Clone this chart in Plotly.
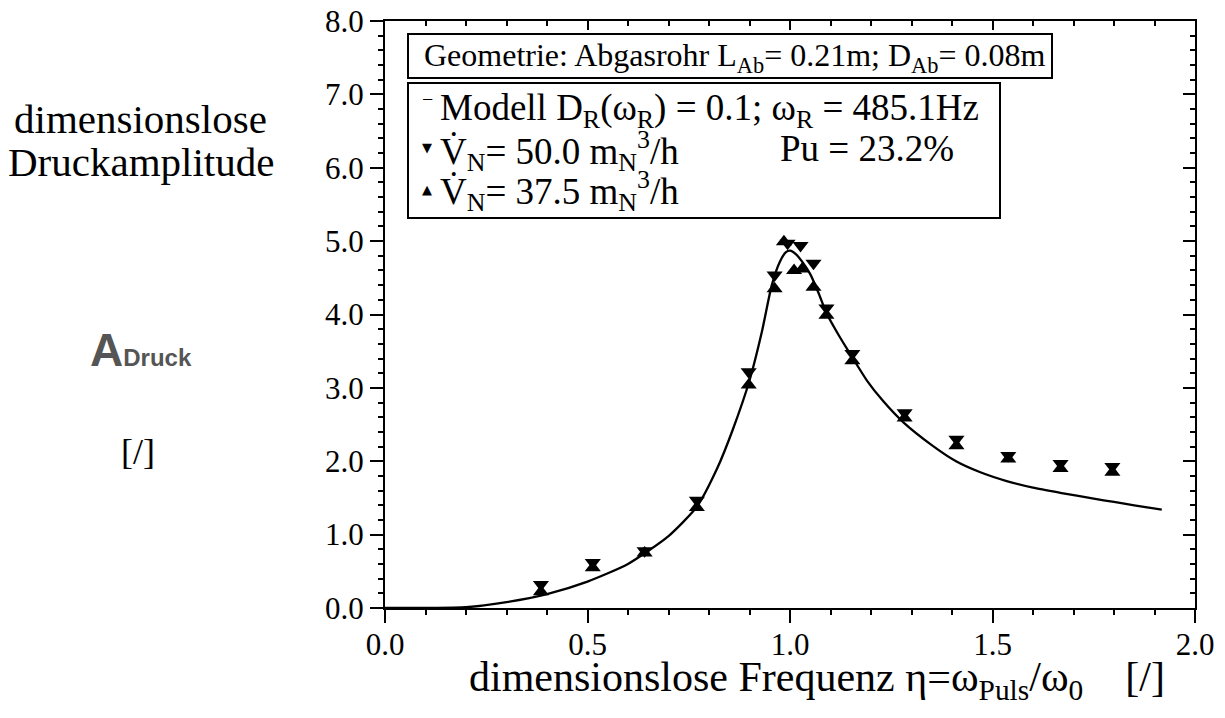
import plotly.graph_objects as go

# ---------------- data ----------------
model_eta = [0.00, 0.10, 0.20, 0.30, 0.40, 0.50, 0.60, 0.70, 0.77, 0.82, 0.86, 0.90,
             0.93, 0.955, 0.975, 0.99, 1.00, 1.015, 1.03, 1.05, 1.07, 1.09, 1.12,
             1.15, 1.19, 1.23, 1.28, 1.35, 1.41, 1.47, 1.535, 1.60, 1.667, 1.75,
             1.80, 1.85, 1.918]
model_amp = [0.00, 0.00, 0.01, 0.08, 0.19, 0.36, 0.60, 0.98, 1.38, 1.90, 2.45, 3.10,
             3.75, 4.40, 4.72, 4.85, 4.87, 4.82, 4.72, 4.55, 4.30, 4.02, 3.72,
             3.45, 3.10, 2.82, 2.53, 2.22, 2.00, 1.85, 1.73, 1.64, 1.57, 1.49,
             1.445, 1.40, 1.34]

v50_eta = [0.385, 0.513, 0.641, 0.770, 0.898, 0.962, 0.994, 1.026, 1.058, 1.090,
           1.154, 1.283, 1.411, 1.539, 1.668, 1.796]
v50_amp = [0.32, 0.62, 0.78, 1.47, 3.22, 4.54, 4.97, 4.94, 4.70, 4.09,
           3.47, 2.66, 2.30, 2.08, 1.97, 1.93]

v37_eta = [0.385, 0.513, 0.641, 0.770, 0.898, 0.962, 0.985, 1.010, 1.030, 1.058,
           1.090, 1.154, 1.283, 1.411, 1.539, 1.668, 1.796]
v37_amp = [0.22, 0.55, 0.75, 1.37, 3.04, 4.35, 4.99, 4.60, 4.62, 4.37,
           3.99, 3.37, 2.59, 2.21, 2.03, 1.90, 1.85]

x_ticks = [0.0, 0.5, 1.0, 1.5, 2.0]
y_ticks = [0.0, 1.0, 2.0, 3.0, 4.0, 5.0, 6.0, 7.0, 8.0]

# ---------------- layout geometry (pixels of the 1225x718 page) ----------------
OFF = 8                      # default body margin of the html page
W, H = 1225 - 2 * OFF, 718 - 2 * OFF
L, R, T, B = 385, 1195, 21, 608   # plot area in page pixels


def px(xp):
    return (xp - L) / (R - L)


def py(yp):
    return (B - yp) / (B - T)


SERIF = "Liberation Serif"

fig = go.Figure()

fig.add_trace(go.Scatter(
    x=model_eta, y=model_amp, mode="lines",
    line=dict(color="black", width=2.3, shape="spline", smoothing=0.6),
    name="Modell", showlegend=False))

fig.add_trace(go.Scatter(
    x=v50_eta, y=v50_amp, mode="markers",
    marker=dict(symbol="triangle-down", size=14, color="black"),
    name="V50", showlegend=False))

fig.add_trace(go.Scatter(
    x=v37_eta, y=v37_amp, mode="markers",
    marker=dict(symbol="triangle-up", size=14, color="black"),
    name="V37", showlegend=False))

# invisible trace for the mirrored (top / right) tick axes
fig.add_trace(go.Scatter(x=[0, 2], y=[0, 8], xaxis="x2", yaxis="y2",
                         mode="markers", marker=dict(opacity=0),
                         showlegend=False, hoverinfo="skip"))

axis_common = dict(showgrid=False, zeroline=False, tickcolor="black",
                   tickwidth=2, automargin=False)

fig.update_layout(
    width=W, height=H, autosize=False,
    margin=dict(l=L - OFF, r=(W + OFF) - R, t=T - OFF, b=(H + OFF) - B, pad=0),
    paper_bgcolor="white", plot_bgcolor="white",
    showlegend=False,
    font=dict(family=SERIF, color="black", size=30),
    xaxis=dict(range=[0, 2], tickvals=x_ticks, tickformat=".1f",
               ticks="outside", ticklen=13, ticklabelstandoff=-5,
               ticklabeloverflow="allow",
               showline=True, mirror=True, linecolor="black", linewidth=2,
               tickfont=dict(family=SERIF, size=31, color="black"),
               minor=dict(dtick=0.1, ticks="outside", ticklen=5,
                          tickcolor="black", tickwidth=1.5),
               **axis_common),
    yaxis=dict(range=[0, 8], tickvals=y_ticks, tickformat=".1f",
               ticks="outside", ticklen=13, ticklabeloverflow="allow",
               showline=True, mirror=True, linecolor="black", linewidth=2,
               tickfont=dict(family=SERIF, size=31, color="black"),
               minor=dict(dtick=0.2, ticks="outside", ticklen=5,
                          tickcolor="black", tickwidth=1.5),
               **axis_common),
    xaxis2=dict(range=[0, 2], overlaying="x", side="top", anchor="y",
                tickvals=x_ticks, ticks="inside", ticklen=9,
                showticklabels=False, showline=False,
                minor=dict(dtick=0.1, ticks="inside", ticklen=5,
                           tickcolor="black", tickwidth=1.5),
                **axis_common),
    yaxis2=dict(range=[0, 8], overlaying="y", side="right", anchor="x",
                tickvals=y_ticks, ticks="inside", ticklen=12,
                showticklabels=False, showline=False,
                minor=dict(dtick=0.2, ticks="inside", ticklen=5,
                           tickcolor="black", tickwidth=1.5),
                **axis_common),
)

# ---------------- boxes ----------------
fig.add_shape(type="rect", xref="paper", yref="paper",
              x0=px(408), x1=px(1052), y0=py(78), y1=py(34),
              line=dict(color="black", width=2), fillcolor="white", layer="above")
fig.add_shape(type="rect", xref="paper", yref="paper",
              x0=px(408), x1=px(1000), y0=py(218), y1=py(83),
              line=dict(color="black", width=2), fillcolor="white", layer="above")

ann = []


def text(xp, yp, s, size, xanchor="left", family=SERIF, color="black"):
    ann.append(dict(xref="paper", yref="paper", x=px(xp), y=py(yp), text=s,
                    showarrow=False, xanchor=xanchor, yanchor="middle",
                    font=dict(family=family, size=size, color=color)))


text(422, 57, "Geometrie: Abgasrohr L<sub>Ab</sub>= 0.21m; D<sub>Ab</sub>= 0.08m", 32)

text(420, 99, "\u2212", 20)
text(438, 110, "Modell D<sub>R</sub>(\u03c9<sub>R</sub>) = 0.1; \u03c9<sub>R</sub> = 485.1Hz", 37)
text(420, 148, "\u25bc", 13, family="DejaVu Sans")
text(438, 151, "V\u0307<sub>N</sub>= 50.0 m<sub>N</sub><sup>3</sup>/h", 37)
text(778, 149, "Pu = 23.2%", 37)
text(420, 189, "\u25b2", 13, family="DejaVu Sans")
text(438, 191, "V\u0307<sub>N</sub>= 37.5 m<sub>N</sub><sup>3</sup>/h", 37)

# left labels
text(141, 119, "dimensionslose", 41, xanchor="center")
text(141, 162, "Druckamplitude", 41, xanchor="center")
text(141, 350, "<b>A<span style='font-size:24px'>Druck</span></b>", 46,
     xanchor="center", family="Liberation Sans", color="#555555")
text(138, 452, "[/]", 36, xanchor="center")

# x-axis title
text(817, 680,
     "dimensionslose Frequenz \u03b7=\u03c9<sub>Puls</sub>/\u03c9<sub>0</sub>"
     "\u00a0\u00a0\u00a0\u00a0[/]",
     42, xanchor="center")

fig.update_layout(annotations=ann)

fig.write_html("out.html")
